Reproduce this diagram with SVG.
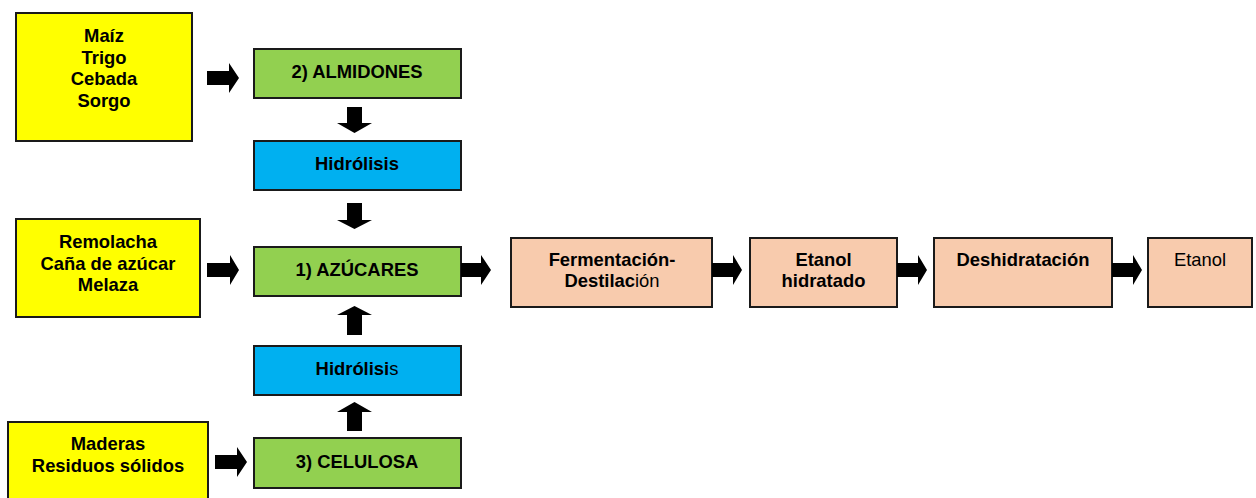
<svg xmlns="http://www.w3.org/2000/svg" width="1256" height="498" viewBox="0 0 1256 498">
<style>
.box{stroke:#1a1a1a;stroke-width:2}
.y{fill:#FFFF00}
.g{fill:#92D050}
.b{fill:#00B0F0}
.p{fill:#F8CBAD}
text{font-family:"Liberation Sans",Arial,sans-serif;font-size:18.4px;fill:#000;text-anchor:middle}
.bd{font-weight:bold}
.n{font-weight:normal}
.arr{fill:#000}
</style>
<rect width="1256" height="498" fill="#fff"/>
<g id="src-almidones">
<rect class="box y" x="16" y="13" width="176" height="128"/>
<text class="bd" x="104" y="42">Maíz</text>
<text class="bd" x="104" y="63.5">Trigo</text>
<text class="bd" x="104" y="85">Cebada</text>
<text class="bd" x="104" y="106.5">Sorgo</text>
</g>
<g id="src-azucares">
<rect class="box y" x="16" y="219" width="184" height="98"/>
<text class="bd" x="108" y="248">Remolacha</text>
<text class="bd" x="108" y="269.5">Caña de azúcar</text>
<text class="bd" x="108" y="291">Melaza</text>
</g>
<g id="src-celulosa">
<rect class="box y" x="8" y="422" width="200" height="90"/>
<text class="bd" x="108" y="450">Maderas</text>
<text class="bd" x="108" y="471.5">Residuos sólidos</text>
</g>
<g id="almidones">
<rect class="box g" x="254" y="49" width="207" height="49"/>
<text class="bd" x="357" y="77.5">2) ALMIDONES</text>
</g>
<g id="hidrolisis1">
<rect class="box b" x="254" y="141" width="207" height="49"/>
<text class="bd" x="357" y="170">Hidrólisis</text>
</g>
<g id="azucares">
<rect class="box g" x="254" y="247" width="207" height="49"/>
<text class="bd" x="357" y="276">1) AZÚCARES</text>
</g>
<g id="hidrolisis2">
<rect class="box b" x="254" y="346" width="207" height="49"/>
<text x="357" y="375"><tspan class="bd">Hidrólisi</tspan><tspan class="n">s</tspan></text>
</g>
<g id="celulosa">
<rect class="box g" x="254" y="438" width="207" height="50"/>
<text class="bd" x="357" y="467.5">3) CELULOSA</text>
</g>
<g id="fermentacion">
<rect class="box p" x="511" y="238" width="201" height="69"/>
<text class="bd" x="612" y="266">Fermentación-</text>
<text x="612" y="287"><tspan class="bd">Destilac</tspan><tspan class="n">ión</tspan></text>
</g>
<g id="etanol-hidratado">
<rect class="box p" x="750" y="238" width="147" height="69"/>
<text class="bd" x="823.5" y="266">Etanol</text>
<text class="bd" x="823.5" y="287">hidratado</text>
</g>
<g id="deshidratacion">
<rect class="box p" x="934" y="238" width="178" height="69"/>
<text class="bd" x="1023" y="266">Deshidratación</text>
</g>
<g id="etanol">
<rect class="box p" x="1148" y="238" width="104" height="69"/>
<text class="n" x="1200" y="266">Etanol</text>
</g>
<g id="connectors" class="arr">
<polygon points="207,71 229,71 229,63 239,78 229,93 229,85 207,85"/>
<polygon points="207,263 230,263 230,255 239,270 230,285 230,277 207,277"/>
<polygon points="215,455 237,455 237,447 247,462 237,477 237,469 215,469"/>
<polygon points="461,263 481,263 481,255 491,270 481,285 481,277 461,277"/>
<polygon points="712,263 733,263 733,255 742,270 733,285 733,277 712,277"/>
<polygon points="897,263 918,263 918,255 927,270 918,285 918,277 897,277"/>
<polygon points="1112,263 1133,263 1133,255 1142,270 1133,285 1133,277 1112,277"/>
<polygon points="347,107 362,107 362,123 372,123 354.5,133 337,123 347,123"/>
<polygon points="347,203 362,203 362,220 372,220 354.5,229 337,220 347,220"/>
<polygon points="347,335 362,335 362,315 372,315 354.5,306 337,315 347,315"/>
<polygon points="347,431 362,431 362,412 372,412 354.5,402 337,412 347,412"/>
</g>
</svg>
